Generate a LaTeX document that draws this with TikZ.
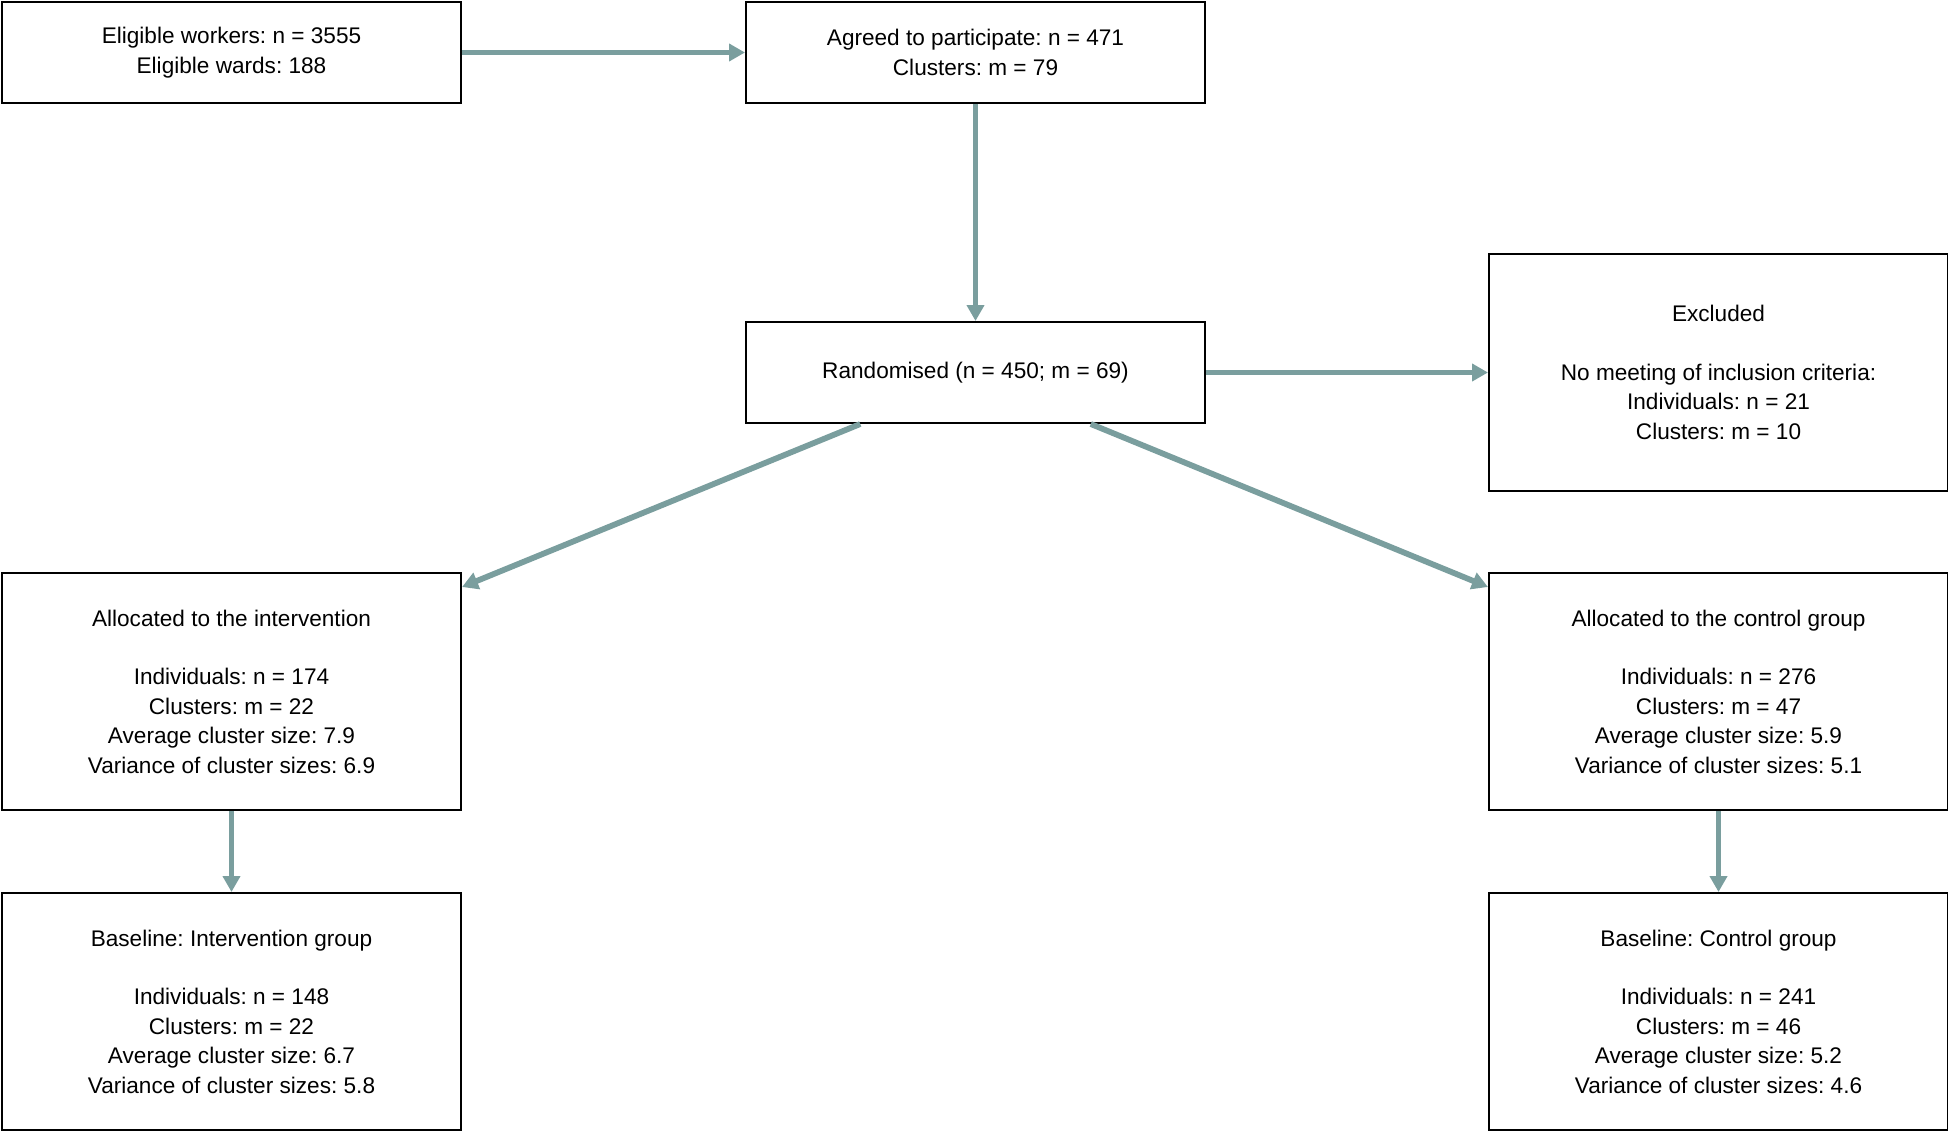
\documentclass[tikz,border=0pt]{standalone}
\usepackage{fontspec}
\setmainfont{Liberation Sans}
\usepackage{xcolor}
\usepackage{tikz}
\usetikzlibrary{positioning, arrows.meta, calc}
\definecolor{flowteal}{HTML}{7A9E9E}
\frenchspacing

\begin{document}
\begin{tikzpicture}[x=0.5pt, y=-0.5pt,
    box/.style={draw=black, line width=1pt, anchor=north west, align=center,
                minimum width=229.5pt, inner sep=0pt,
                font=\fontsize{11.3}{14.7}\selectfont},
    smallbox/.style={box, minimum height=50.5pt},
    bigbox/.style={box, minimum height=118.5pt},
    flow/.style={draw=flowteal, line width=2.9pt,
                 -{Triangle[length=8pt, width=8.5pt]}}]
  \useasboundingbox (0,0) rectangle (1948,1130);

  % top row
  \node[smallbox] (eligible) at (1,1) {Eligible workers: n = 3555\\Eligible wards: 188};
  \node[smallbox] (agreed) at (745,1) {Agreed to participate: n = 471\\Clusters: m = 79};

  % randomisation and exclusion
  \node[smallbox] (randomised) at (745,321) {Randomised (n = 450; m = 69)};
  \node[bigbox] (excluded) at (1488,253) {Excluded\\[14.7pt]No meeting of inclusion criteria:\\
    Individuals: n = 21\\Clusters: m = 10};

  % allocation
  \node[bigbox] (allocint) at (1,572) {Allocated to the intervention\\[14.7pt]
    Individuals: n = 174\\Clusters: m = 22\\Average cluster size: 7.9\\Variance of cluster sizes: 6.9};
  \node[bigbox] (allocctrl) at (1488,572) {Allocated to the control group\\[14.7pt]
    Individuals: n = 276\\Clusters: m = 47\\Average cluster size: 5.9\\Variance of cluster sizes: 5.1};

  % baseline
  \node[bigbox] (baseint) at (1,892) {Baseline: Intervention group\\[14.7pt]
    Individuals: n = 148\\Clusters: m = 22\\Average cluster size: 6.7\\Variance of cluster sizes: 5.8};
  \node[bigbox] (basectrl) at (1488,892) {Baseline: Control group\\[14.7pt]
    Individuals: n = 241\\Clusters: m = 46\\Average cluster size: 5.2\\Variance of cluster sizes: 4.6};

  % connectors
  \draw[flow] (eligible) -- (agreed);
  \draw[flow] (agreed) -- (randomised);
  \draw[flow] (randomised) -- (excluded);
  \draw[flow] ($(randomised.south)!0.5!(randomised.south west)$) -- ([yshift=-7.5pt]allocint.north east);
  \draw[flow] ($(randomised.south)!0.5!(randomised.south east)$) -- ([yshift=-7.5pt]allocctrl.north west);
  \draw[flow] (allocint) -- (baseint);
  \draw[flow] (allocctrl) -- (basectrl);
\end{tikzpicture}
\end{document}
